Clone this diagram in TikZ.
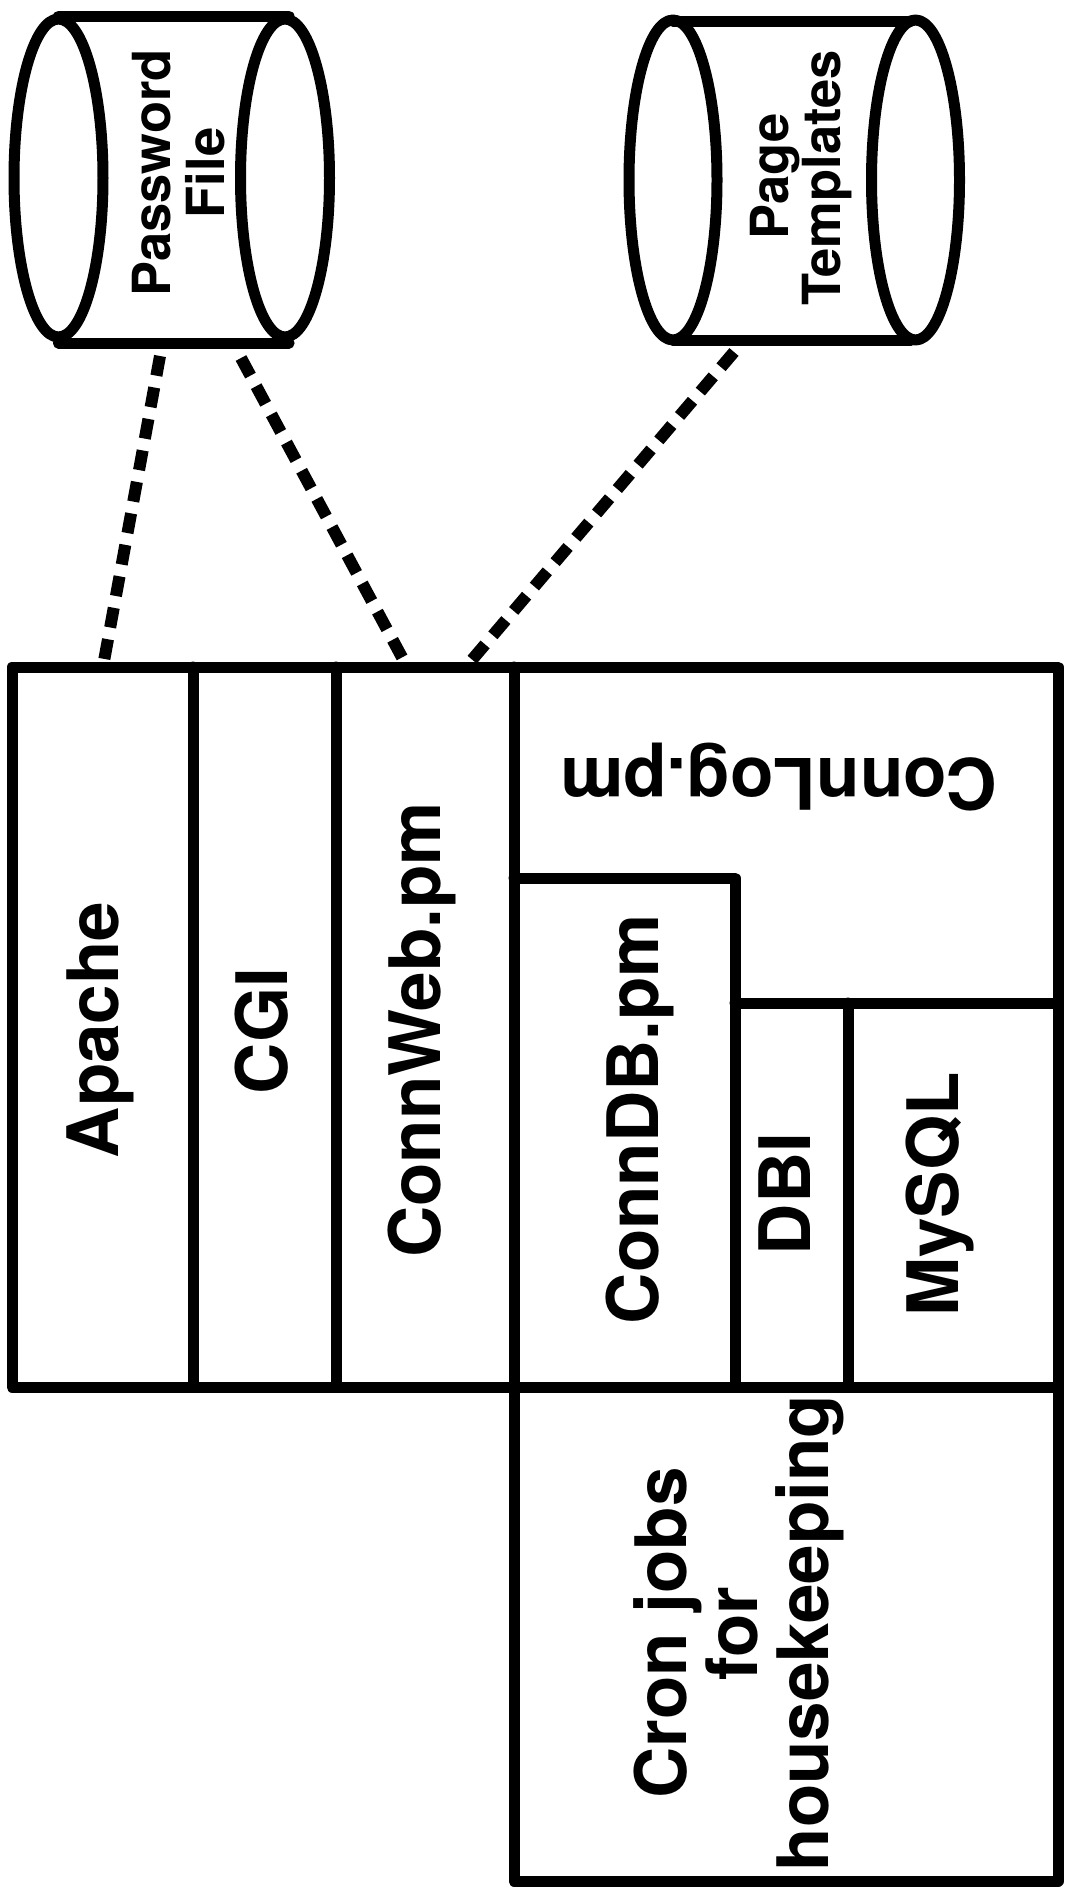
\documentclass[tikz,border=0pt]{standalone}
\usepackage{fontspec}
\setmainfont{TeX Gyre Heros}
\tikzset{
  outl/.style={line width=11pt, line cap=round, line join=round},
  link/.style={line width=12pt, dash pattern=on 20pt off 12pt},
  lbl/.style={font=\bfseries\fontsize{71}{71}\selectfont, inner sep=0pt, anchor=base},
  cyltxt/.style={font=\bfseries\fontsize{52.5}{52.5}\selectfont, inner sep=0pt, anchor=base},
}
\begin{document}
\begin{tikzpicture}[x=1pt,y=-1pt]
\useasboundingbox (0,0) rectangle (1065,1895);
\fill[white] (0,0) rectangle (1065,1895);

% Password File cylinder
\draw[outl] (58.5,178) ellipse [x radius=44.5pt, y radius=159pt];
\draw[outl] (285,178) ellipse [x radius=44.5pt, y radius=159pt];
\draw[outl] (58.5,16) -- (289,16);
\draw[outl] (58.5,343) -- (289,343);
\node[cyltxt, rotate=90] (pw1) at (170,173) {Password};
\node[cyltxt, rotate=90] (pw2) at (224,173) {File};

% Page Templates cylinder
\draw[outl] (673,180) ellipse [x radius=44pt, y radius=160pt];
\draw[outl] (915.5,180) ellipse [x radius=44pt, y radius=160pt];
\draw[outl] (673,21) -- (911,21);
\draw[outl] (673,340) -- (911,340);
\node[cyltxt, rotate=90] (pt1) at (788,176.6) {Page};
\node[cyltxt, rotate=90] (pt2) at (840,178) {Templates};

% main stack
\draw[outl] (12,667) rectangle (1058,1387);
\draw[outl] (193,667) -- (193,1387);
\draw[outl] (336,667) -- (336,1387);
\draw[outl] (514,667) -- (514,1881);
\draw[outl] (514,878) -- (735,878) -- (735,1387);
\draw[outl] (735,1003) -- (1058,1003);
\draw[outl] (848,1003) -- (848,1387);
\draw[outl] (514,1387) rectangle (1058,1881);

\node[lbl, rotate=90] (apache) at (118,1030) {Apache};
\node[lbl, rotate=90] (cgi) at (287.5,1031) {CGI};
\node[lbl, rotate=90] (connweb) at (440,1030) {ConnWeb.pm};
\node[lbl, rotate=180] (connlog) at (779,758) {ConnLog.pm};
\node[lbl, rotate=90] (conndb) at (658.6,1119) {ConnDB.pm};
\node[lbl, rotate=90] (dbi) at (810.4,1194) {DBI};
\node[lbl, rotate=90] (mysql) at (958.6,1194.5) {MySQL};
\node[lbl, rotate=90] (cron1) at (686.5,1633) {Cron jobs};
\node[lbl, rotate=90] (cron2) at (757,1634) {for};
\node[lbl, rotate=90] (cron3) at (828,1633) {housekeeping};

% dashed connectors
\coordinate (pwa) at (160,356);
\coordinate (pwb) at (241,358);
\coordinate (pta) at (734,352);
\coordinate (apt) at (104,661);
\coordinate (cwt1) at (404,661);
\coordinate (cwt2) at (471,661);
\draw[link] (pwa) -- (apt);
\draw[link] (pwb) -- (cwt1);
\draw[link] (pta) -- (cwt2);
\end{tikzpicture}
\end{document}
